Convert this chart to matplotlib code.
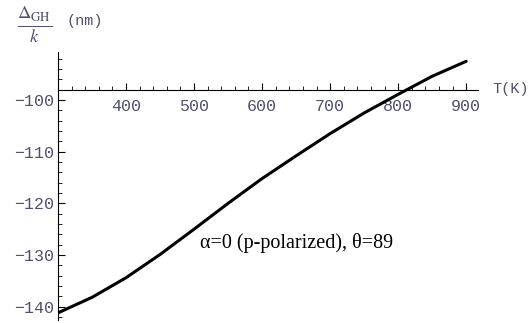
import numpy as np
import matplotlib.pyplot as plt
from matplotlib.ticker import MultipleLocator

# Values
temperature = [300, 350, 400, 450, 500, 550, 600, 650, 700, 750, 800, 850, 900]
shift = [-141.2, -138.2, -134.4, -129.9, -125.0, -120.0, -115.2,
         -110.8, -106.5, -102.5, -98.9, -95.4, -92.5]
x_ticks = [400, 500, 600, 700, 800, 900]
y_ticks = [-140, -130, -120, -110, -100]

label_color = '#50506e'

fig = plt.figure(figsize=(5.32, 3.23), dpi=100)
ax = fig.add_axes([0.109, 0.009, 0.789, 0.830])

ax.plot(temperature, shift, color='black', linewidth=2.2,
        solid_capstyle='round', solid_joinstyle='round')

ax.set_xlim(300, 917)
ax.set_ylim(-142.6, -90.7)

# Mathematica-like axes crossing inside the plot
ax.spines['left'].set_position(('data', 300))
ax.spines['bottom'].set_position(('data', -98))
ax.spines['top'].set_visible(False)
ax.spines['right'].set_visible(False)
for s in ('left', 'bottom'):
    ax.spines[s].set_linewidth(0.8)

ax.set_xticks(x_ticks)
ax.set_yticks(y_ticks)
ax.xaxis.set_minor_locator(MultipleLocator(20))
ax.yaxis.set_minor_locator(MultipleLocator(2))
ax.tick_params(axis='x', which='both', direction='in', pad=7)
ax.tick_params(axis='y', which='both', direction='in', pad=3)
ax.tick_params(which='major', length=5, width=0.8)
ax.tick_params(which='minor', length=3, width=0.6)
ax.tick_params(labelsize=12, labelcolor=label_color)
for lab in ax.get_xticklabels() + ax.get_yticklabels():
    lab.set_family('Liberation Mono')
ax.set_yticklabels(['\u2212' + str(abs(v)) for v in y_ticks])

# axis labels
fig.text(0.925, 0.725, 'T(K)', family='Liberation Mono', fontsize=11,
         color=label_color, va='center')
plt.rcParams['mathtext.fontset'] = 'stix'
fig.text(0.032, 0.925, r'$\frac{\Delta_{\mathrm{GH}}}{k}$', fontsize=19,
         color=label_color, va='center')
fig.text(0.125, 0.935, '(nm)', family='Liberation Mono', fontsize=11,
         color=label_color, va='center')

ax.text(509, -127.7, '\u03b1=0 (p-polarized), \u03b8=89', family='Liberation Serif',
        fontsize=14.5, color='black', va='center')

fig.savefig('out.png', dpi=100)
